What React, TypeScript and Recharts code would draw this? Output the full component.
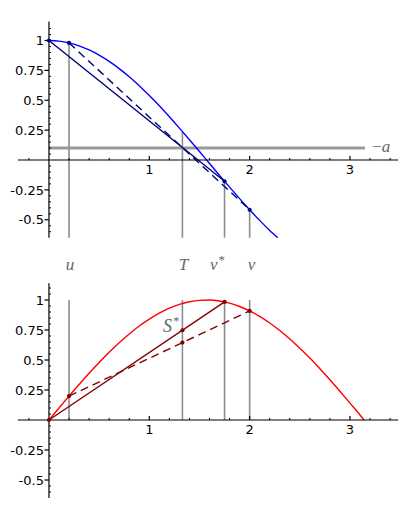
import React from "react";
import { ComposedChart, Line, Scatter, XAxis, YAxis, ReferenceLine, ReferenceDot } from "recharts";

// curves
const cosX = [0, 0.1, 0.2, 0.3, 0.4, 0.5, 0.6, 0.7, 0.8, 0.9, 1.0, 1.1, 1.2, 1.3, 1.4, 1.5, 1.6, 1.7, 1.8, 1.9, 2.0, 2.1, 2.2, 2.28];
const cosY = [1, 0.995, 0.98, 0.955, 0.921, 0.878, 0.825, 0.765, 0.697, 0.622, 0.54, 0.454, 0.362, 0.267, 0.17, 0.071, -0.029, -0.129, -0.227, -0.323, -0.416, -0.505, -0.589, -0.65];
const sinX = [0, 0.1, 0.2, 0.3, 0.4, 0.5, 0.6, 0.7, 0.8, 0.9, 1.0, 1.1, 1.2, 1.3, 1.4, 1.5, 1.6, 1.7, 1.8, 1.9, 2.0, 2.1, 2.2, 2.3, 2.4, 2.5, 2.6, 2.7, 2.8, 2.9, 3.0, 3.1, 3.14];
const sinY = [0, 0.1, 0.199, 0.296, 0.389, 0.479, 0.565, 0.644, 0.717, 0.783, 0.841, 0.891, 0.932, 0.964, 0.985, 0.997, 1.0, 0.992, 0.974, 0.946, 0.909, 0.863, 0.808, 0.746, 0.675, 0.598, 0.516, 0.427, 0.335, 0.239, 0.141, 0.042, 0];

// marked abscissae u, T, v*, v
const markNames = ["u", "T", "v*", "v"];
const markX = [0.2, 1.33, 1.75, 2.0];
const cosAtMarks = [0.98, 0.238, -0.178, -0.416];
const sinAtMarks = [0.199, 0.971, 0.984, 0.909];
const minusA = 0.1;
const minusAEnd = 3.15;
const chordsAtT = [0.748, 0.645];

// ticks
const xMajor = [1, 2, 3];
const xMajorLabels = ["1", "2", "3"];
const xMinor = [-0.2, 0.2, 0.4, 0.6, 0.8, 1.2, 1.4, 1.6, 1.8, 2.2, 2.4, 2.6, 2.8, 3.2, 3.4];
const yMajor = [-0.5, -0.25, 0.25, 0.5, 0.75, 1];
const yMajorLabels = ["-0.5", "-0.25", "0.25", "0.5", "0.75", "1"];
const yMinor = [-0.6, -0.55, -0.45, -0.4, -0.35, -0.3, -0.2, -0.15, -0.1, -0.05, 0.05, 0.1, 0.15, 0.2, 0.3, 0.35, 0.4, 0.45, 0.55, 0.6, 0.65, 0.7, 0.8, 0.85, 0.9, 0.95, 1.05, 1.1];

const W = 415;
const X_DOMAIN: [number, number] = [-0.488, 3.648];
const X_AXIS_EXTENT: [number, number] = [-0.31, 3.48];
const Y_BOTTOM = -0.65;
const SANS = "'DejaVu Sans', sans-serif";
const MATH = "'Liberation Serif', 'DejaVu Serif', serif";
const GREY_TEXT = "#666";
const GUIDE = "#8c8c8c";

type Pt = { x: number; y: number };
const zip = (xs: number[], ys: number[]): Pt[] => xs.map((x, i) => ({ x, y: ys[i] }));

function axes(yTop: number, prefix: string) {
  const els: React.ReactElement[] = [];
  const ax = { stroke: "#000", strokeWidth: 1.2, ifOverflow: "visible" as const };
  els.push(<ReferenceLine key={prefix + "xa"} segment={[{ x: X_AXIS_EXTENT[0], y: 0 }, { x: X_AXIS_EXTENT[1], y: 0 }]} {...ax} />);
  els.push(<ReferenceLine key={prefix + "ya"} segment={[{ x: 0, y: Y_BOTTOM }, { x: 0, y: yTop }]} {...ax} />);
  xMajor.forEach((t, i) => {
    els.push(<ReferenceLine key={prefix + "xM" + i} segment={[{ x: t, y: 0 }, { x: t, y: 0.034 }]} {...ax} />);
    els.push(
      <ReferenceDot key={prefix + "xl" + i} x={t} y={0} r={0} ifOverflow="visible"
        shape={(p: any) => (
          <text x={p.cx} y={p.cy + 14} textAnchor="middle" fontFamily={SANS} fontSize={13} fill="#000">{xMajorLabels[i]}</text>
        )} />
    );
  });
  xMinor.forEach((t, i) => {
    els.push(<ReferenceLine key={prefix + "xm" + i} segment={[{ x: t, y: 0 }, { x: t, y: 0.017 }]} stroke="#000" strokeWidth={1} ifOverflow="visible" />);
  });
  yMajor.forEach((t, i) => {
    els.push(<ReferenceLine key={prefix + "yM" + i} segment={[{ x: -0.045, y: t }, { x: 0, y: t }]} {...ax} />);
    els.push(
      <ReferenceDot key={prefix + "yl" + i} x={0} y={t} r={0} ifOverflow="visible"
        shape={(p: any) => (
          <text x={p.cx - 5} y={p.cy + 4.7} textAnchor="end" fontFamily={SANS} fontSize={13} fill="#000">{yMajorLabels[i]}</text>
        )} />
    );
  });
  yMinor.filter((t) => t < yTop).forEach((t, i) => {
    els.push(<ReferenceLine key={prefix + "ym" + i} segment={[{ x: 0, y: t }, { x: 0.02, y: t }]} stroke="#000" strokeWidth={1} ifOverflow="visible" />);
  });
  return els;
}

function markLabel(name: string, dx: number) {
  return (p: any) => {
    const star = name.endsWith("*");
    return (
      <text x={p.cx + dx} y={p.cy + 32} textAnchor="middle" fontFamily={MATH} fontStyle="italic" fontSize={17} fill={GREY_TEXT}>
        {star ? name.slice(0, -1) : name}
        {star ? <tspan dx={1} dy={-6} fontSize={13} fontStyle="normal">*</tspan> : null}
      </text>
    );
  };
}

const markDx = [1, 1, -7, 2];

const dot = (color: string) => (p: any) => <circle cx={p.cx} cy={p.cy} r={2.1} fill={color} />;

function TopPanel() {
  const navy = "#000080";
  const solid = [{ x: 0, y: cosY[0] }, { x: markX[2], y: cosAtMarks[2] }];
  const dashed = [{ x: markX[0], y: cosAtMarks[0] }, { x: markX[3], y: cosAtMarks[3] }];
  const pts = [{ x: 0, y: cosY[0] }, { x: markX[0], y: cosAtMarks[0] }, { x: markX[2], y: cosAtMarks[2] }, { x: markX[3], y: cosAtMarks[3] }];
  return (
    <ComposedChart width={W} height={280} margin={{ top: 0, right: 0, bottom: 0, left: 0 }}>
      <XAxis type="number" dataKey="x" domain={X_DOMAIN} allowDataOverflow hide />
      <YAxis type="number" dataKey="y" domain={[-1.004, 1.339]} allowDataOverflow hide />
      {markX.map((x, i) => (
        <ReferenceLine key={"v" + i} segment={[{ x, y: cosAtMarks[i] }, { x, y: Y_BOTTOM }]} stroke={GUIDE} strokeWidth={1.6} ifOverflow="visible" />
      ))}
      <ReferenceLine segment={[{ x: 0, y: minusA }, { x: minusAEnd, y: minusA }]} stroke="#999" strokeWidth={3} ifOverflow="visible" />
      <Line data={zip(cosX, cosY)} dataKey="y" type="monotone" stroke="#0000ff" strokeWidth={1.4} dot={false} activeDot={false} isAnimationActive={false} />
      <Line data={solid} dataKey="y" type="linear" stroke={navy} strokeWidth={1.4} dot={false} activeDot={false} isAnimationActive={false} />
      <Line data={dashed} dataKey="y" type="linear" stroke={navy} strokeWidth={1.4} strokeDasharray="8 5" dot={false} activeDot={false} isAnimationActive={false} />
      <Scatter data={pts} dataKey="y" shape={dot(navy)} isAnimationActive={false} />
      {axes(1.16, "t")}
      {markNames.map((n, i) => (
        <ReferenceDot key={"ml" + i} x={markX[i]} y={Y_BOTTOM} r={0} ifOverflow="visible" shape={markLabel(n, markDx[i])} />
      ))}
      <ReferenceDot x={minusAEnd} y={minusA} r={0} ifOverflow="visible"
        shape={(p: any) => (
          <text x={p.cx + 7} y={p.cy + 4} textAnchor="start" fontFamily={MATH} fontSize={17} fill={GREY_TEXT}>
            −<tspan fontStyle="italic">a</tspan>
          </text>
        )} />
    </ComposedChart>
  );
}

function BottomPanel() {
  const dark = "#800000";
  const solid = [{ x: 0, y: sinY[0] }, { x: markX[2], y: sinAtMarks[2] }];
  const dashed = [{ x: markX[0], y: sinAtMarks[0] }, { x: markX[3], y: sinAtMarks[3] }];
  const pts = [
    { x: 0, y: sinY[0] },
    { x: markX[0], y: sinAtMarks[0] },
    { x: markX[1], y: chordsAtT[0] },
    { x: markX[1], y: chordsAtT[1] },
    { x: markX[2], y: sinAtMarks[2] },
    { x: markX[3], y: sinAtMarks[3] },
  ];
  return (
    <ComposedChart width={W} height={239} margin={{ top: 0, right: 0, bottom: 0, left: 0 }}>
      <XAxis type="number" dataKey="x" domain={X_DOMAIN} allowDataOverflow hide />
      <YAxis type="number" dataKey="y" domain={[-0.825, 1.1667]} allowDataOverflow hide />
      {markX.map((x, i) => (
        <ReferenceLine key={"v" + i} segment={[{ x, y: 0 }, { x, y: 1 }]} stroke={GUIDE} strokeWidth={1.6} ifOverflow="visible" />
      ))}
      <Line data={zip(sinX, sinY)} dataKey="y" type="monotone" stroke="#ff0000" strokeWidth={1.4} dot={false} activeDot={false} isAnimationActive={false} />
      <Line data={solid} dataKey="y" type="linear" stroke={dark} strokeWidth={1.4} dot={false} activeDot={false} isAnimationActive={false} />
      <Line data={dashed} dataKey="y" type="linear" stroke={dark} strokeWidth={1.4} strokeDasharray="8 5" dot={false} activeDot={false} isAnimationActive={false} />
      <Scatter data={pts} dataKey="y" shape={dot(dark)} isAnimationActive={false} />
      {axes(1.14, "b")}
      <ReferenceDot x={markX[1]} y={chordsAtT[0]} r={0} ifOverflow="visible"
        shape={(p: any) => (
          <text x={p.cx - 3} y={p.cy + 2} textAnchor="end" fontFamily={MATH} fontStyle="italic" fontSize={18} fill={GREY_TEXT}>
            S<tspan dx={1} dy={-7} fontSize={13} fontStyle="normal">*</tspan>
          </text>
        )} />
    </ComposedChart>
  );
}

export default function App() {
  return (
    <div style={{ position: "absolute", left: 0, top: 0, width: W, height: 519, background: "#fff" }}>
      <TopPanel />
      <BottomPanel />
    </div>
  );
}
